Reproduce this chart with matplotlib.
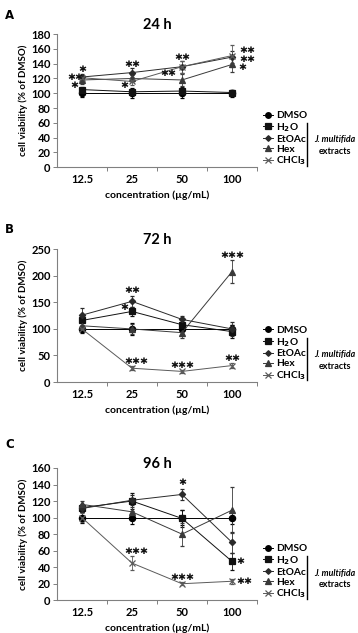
import numpy as np
import matplotlib
matplotlib.use("Agg")
import matplotlib.pyplot as plt
from matplotlib.ticker import FixedLocator

plt.rcParams['font.family'] = ['Lato', 'DejaVu Sans']
plt.rcParams['font.weight'] = 'bold'

conc = ["12.5", "25", "50", "100"]
names = ["DMSO", "H$_2$O", "EtOAc", "Hex", "CHCl$_3$"]
markers = ["o", "s", "D", "^", "x"]
colors = ["#000000", "#111111", "#2a2a2a", "#3a3a3a", "#5a5a5a"]
msizes = [4.5, 4.5, 3.2, 4.5, 4.5]

# 24 h
dmso_24 = [100, 100, 100, 100]
h2o_24 = [105, 102, 103, 101]
etoac_24 = [122, 128, 136, 149]
hex_24 = [118, 120, 118, 139]
chcl3_24 = [121, 116, 136, 151]
err_24 = [[5, 7, 6, 5], [4, 4, 5, 4], [4, 6, 8, 8], [5, 5, 8, 10], [4, 5, 8, 15]]
stars_24 = [(0, 132, "✱"), (-0.13, 122, "✱✱"), (-0.15, 111, "✱"),
            (1, 139, "✱✱"), (0.85, 111, "✱"),
            (2, 148, "✱✱"), (1.72, 127, "✱✱"),
            (3.3, 158, "✱✱"), (3.3, 146, "✱✱"), (3.2, 135, "✱")]

# 72 h
dmso_72 = [100, 100, 100, 100]
h2o_72 = [116, 133, 108, 95]
etoac_72 = [126, 152, 118, 100]
hex_72 = [106, 100, 93, 208]
chcl3_72 = [100, 26, 20, 31]
err_72 = [[8, 12, 10, 8], [10, 8, 8, 12], [13, 10, 6, 13], [8, 10, 10, 22], [6, 4, 3, 4]]
stars_72 = [(1, 173, "✱✱"), (0.85, 140, "✱"), (3, 239, "✱✱✱"),
            (1.08, 38, "✱✱✱"), (2, 32, "✱✱✱"), (3, 44, "✱✱")]

# 96 h
dmso_96 = [100, 100, 100, 100]
h2o_96 = [112, 120, 99, 47]
etoac_96 = [111, 121, 128, 70]
hex_96 = [116, 107, 80, 109]
chcl3_96 = [100, 45, 20, 23]
err_96 = [[7, 8, 9, 8], [5, 10, 10, 10], [4, 6, 7, 13], [4, 6, 14, 28], [5, 8, 2, 3]]
stars_96 = [(2, 142, "✱"), (1.08, 59, "✱✱✱"), (2, 28, "✱✱✱"),
            (3.17, 47, "✱"), (3.25, 23, "✱✱")]

panels = [
    ("A", "24 h", [dmso_24, h2o_24, etoac_24, hex_24, chcl3_24], err_24, stars_24,
     np.arange(0, 181, 20), [0.736, 0.210], 0.068),
    ("B", "72 h", [dmso_72, h2o_72, etoac_72, hex_72, chcl3_72], err_72, stars_72,
     np.arange(0, 251, 50), [0.3965, 0.2096], 0.068),
    ("C", "96 h", [dmso_96, h2o_96, etoac_96, hex_96, chcl3_96], err_96, stars_96,
     np.arange(0, 161, 20), [0.0517, 0.209], 0.03),
]
letter_y = [0.985, 0.648, 0.308]

fig = plt.figure(figsize=(3.58, 6.33), dpi=100)
x = np.arange(len(conc))

for i, (letter, title, ys, errs, stars, yt, (b, h), tpad) in enumerate(panels):
    ax = fig.add_axes([0.159, b, 0.559, h])
    handles = []
    for k in range(len(names)):
        ax.errorbar(x, ys[k], yerr=errs[k], color=colors[k], lw=0.7,
                    elinewidth=0.6, capsize=1.5, capthick=0.6,
                    marker=markers[k], ms=msizes[k], mew=0.9)
        hl, = ax.plot([], [], color=colors[k], lw=0.7, marker=markers[k],
                      ms=msizes[k] * 0.9, mew=0.9)
        handles.append(hl)
    for sx, sy, s in stars:
        ax.text(sx, sy, s, ha="center", va="center", fontsize=6.8,
                family="DejaVu Sans", color="#111111")
    ax.set_xlim(-0.5, 3.5)
    ax.set_ylim(0, yt[-1])
    ax.set_yticks(yt)
    ax.set_xticks(x)
    ax.set_xticklabels(conc, fontsize=8, fontweight="bold")
    ax.tick_params(axis="x", length=0, pad=5)
    ax.xaxis.set_minor_locator(FixedLocator([0.5, 1.5, 2.5, 3.5]))
    ax.tick_params(axis="x", which="minor", length=3, color="#808080", width=0.7)
    ax.tick_params(axis="y", length=3, color="#808080", width=0.7, labelsize=8, pad=1.5)
    for lab in ax.get_yticklabels():
        lab.set_fontweight("bold")
    for sp in ["top", "right"]:
        ax.spines[sp].set_visible(False)
    for sp in ["left", "bottom"]:
        ax.spines[sp].set_color("#808080")
        ax.spines[sp].set_linewidth(0.8)
    ax.set_ylabel("cell viability (% of DMSO)", fontsize=7, fontweight="bold", labelpad=2)
    ax.set_xlabel("concentration (µg/mL)", fontsize=7.5, fontweight="bold", labelpad=4)
    ax.text(0.5, 1 + tpad, title, transform=ax.transAxes, ha="center",
            va="center", fontsize=10.5, fontweight="bold")
    fig.text(0.014, letter_y[i], letter, fontsize=8.5, fontweight="bold",
             family="DejaVu Sans", va="top")
    ax.legend(handles, names, loc="lower left", bbox_to_anchor=(1.03, 0.0),
              frameon=False, fontsize=7.3, handlelength=1.0, handletextpad=0.3,
              labelspacing=0.08, borderaxespad=0, borderpad=0)
    ax.plot([1.25, 1.25], [0.012, 0.335], color="black", lw=1.0,
            transform=ax.transAxes, clip_on=False)
    ax.text(1.39, 0.205, "J. multifida", transform=ax.transAxes, ha="center",
            va="center", fontsize=6.3, fontweight="bold", style="italic")
    ax.text(1.39, 0.12, "extracts", transform=ax.transAxes, ha="center",
            va="center", fontsize=6.5, fontweight="bold")

fig.savefig("out.png", dpi=100)
